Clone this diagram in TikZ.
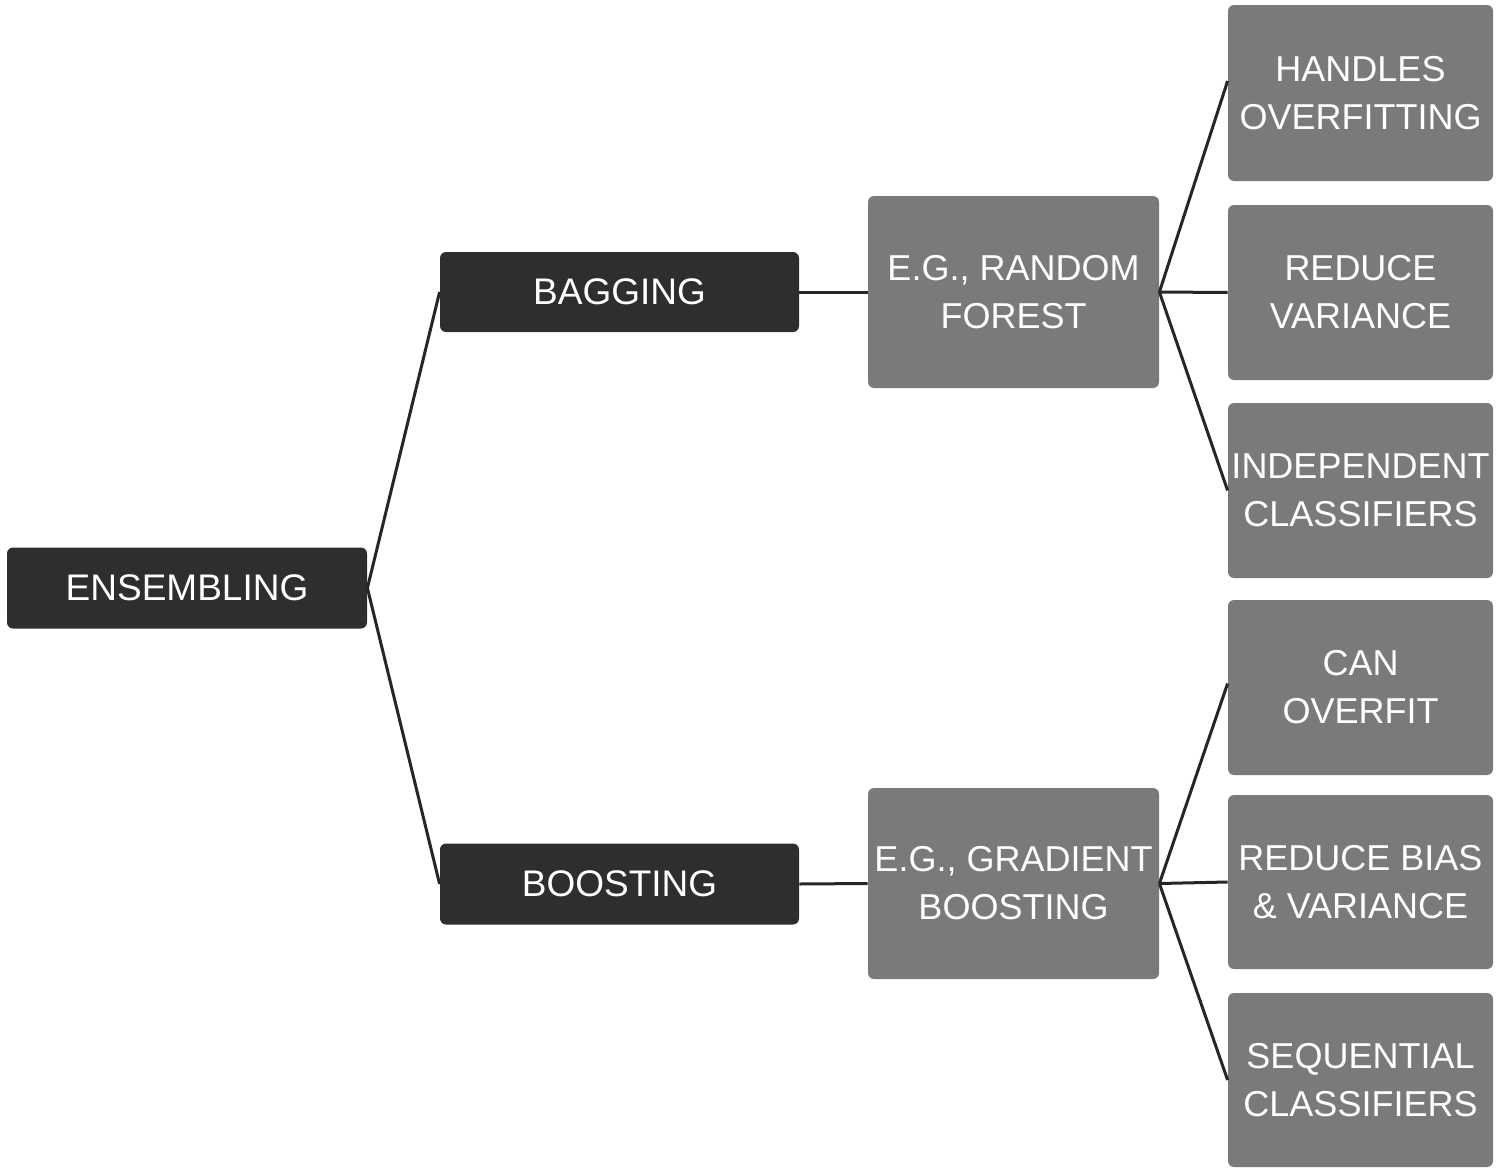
\documentclass[tikz,border=0pt]{standalone}
\usepackage{fontspec}
\setmainfont{Liberation Sans}
\definecolor{darkbox}{HTML}{2E2E2E}
\definecolor{graybox}{HTML}{7A7A7A}
\definecolor{linecol}{HTML}{262626}
\begin{document}
\begin{tikzpicture}[x=0.5pt,y=-0.5pt,
  dark/.style={fill=darkbox,rounded corners=3pt,text=white,font=\fontsize{18.5}{22}\selectfont,align=center,inner sep=0pt},
  gray/.style={fill=graybox,rounded corners=3pt,text=white,font=\fontsize{18}{24}\selectfont,align=center,inner sep=0pt},
  conn/.style={draw=linecol,line width=1.5pt}]
\useasboundingbox (0,0) rectangle (1500,1173);
\node[dark,minimum width=180pt,minimum height=40.5pt] (ens) at (187,588) {ENSEMBLING};
\node[dark,minimum width=179.5pt,minimum height=40pt] (bag) at (619.5,292) {BAGGING};
\node[dark,minimum width=179.5pt,minimum height=40.5pt] (boo) at (619.5,884) {BOOSTING};
\node[gray,minimum width=145.5pt,minimum height=96pt] (rf) at (1013.5,292) {E.G., RANDOM\\FOREST};
\node[gray,minimum width=145.5pt,minimum height=95.5pt] (gb) at (1013.5,883.5) {E.G., GRADIENT\\BOOSTING};
\node[gray,minimum width=132.5pt,minimum height=88pt] (l1) at (1360.5,93) {HANDLES\\OVERFITTING};
\node[gray,minimum width=132.5pt,minimum height=87.5pt] (l2) at (1360.5,292.5) {REDUCE\\VARIANCE};
\node[gray,minimum width=132.5pt,minimum height=87.5pt] (l3) at (1360.5,490.5) {INDEPENDENT\\CLASSIFIERS};
\node[gray,minimum width=132.5pt,minimum height=87.5pt] (l4) at (1360.5,687.5) {CAN\\OVERFIT};
\node[gray,minimum width=132.5pt,minimum height=87pt] (l5) at (1360.5,882) {REDUCE BIAS\\\& VARIANCE};
\node[gray,minimum width=132.5pt,minimum height=87pt] (l6) at (1360.5,1080) {SEQUENTIAL\\CLASSIFIERS};
\draw[conn] (ens.east) -- (bag.west);
\draw[conn] (ens.east) -- (boo.west);
\draw[conn] (bag.east) -- (rf.west);
\draw[conn] (boo.east) -- (gb.west);
\draw[conn] (rf.east) -- ([yshift=6pt]l1.west);
\draw[conn] (rf.east) -- (l2.west);
\draw[conn] (rf.east) -- (l3.west);
\draw[conn] (gb.east) -- ([yshift=2pt]l4.west);
\draw[conn] (gb.east) -- (l5.west);
\draw[conn] (gb.east) -- (l6.west);
\end{tikzpicture}
\end{document}
